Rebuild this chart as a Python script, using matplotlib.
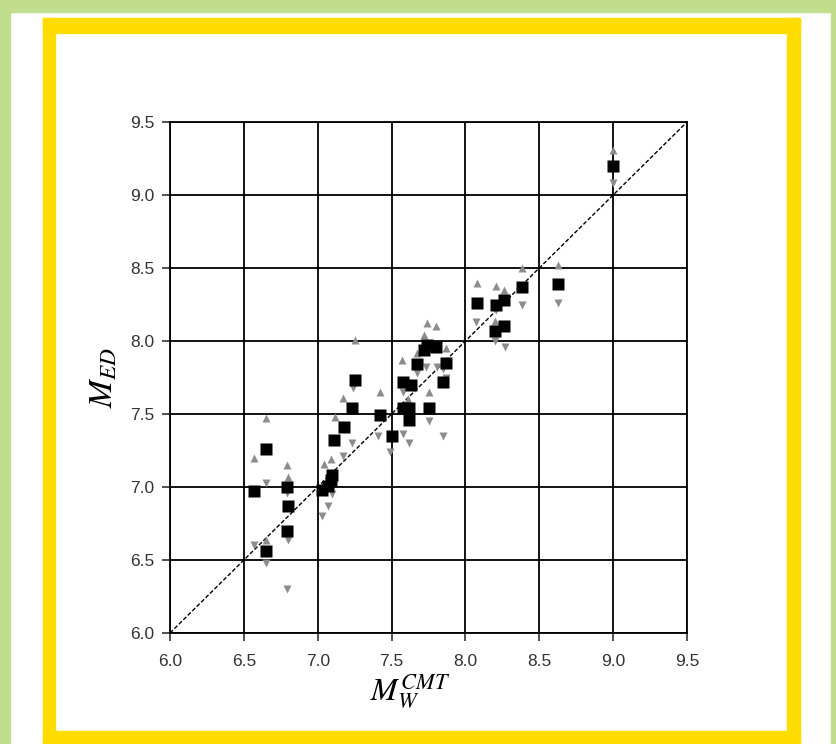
import numpy as np
import matplotlib.pyplot as plt
from matplotlib.patches import Rectangle

# M_w (CMT) vs M_ED: black squares, grey up/down triangles
sq_x = [9.00, 8.63, 8.38, 8.08, 8.21, 8.26, 8.20, 8.26,
        7.72, 7.74, 7.80, 7.67, 7.87, 7.85, 7.58, 7.63,
        7.58, 7.62, 7.75, 7.62, 7.50, 7.42,
        7.25, 7.23, 7.18, 7.11,
        7.03, 7.07, 7.09, 7.10,
        6.65, 6.57, 6.79, 6.80, 6.79, 6.65]
sq_y = [9.20, 8.39, 8.37, 8.26, 8.25, 8.28, 8.07, 8.10,
        7.94, 7.97, 7.96, 7.84, 7.85, 7.72, 7.72, 7.70,
        7.54, 7.54, 7.54, 7.46, 7.35, 7.49,
        7.73, 7.54, 7.41, 7.32,
        6.98, 7.01, 7.05, 7.08,
        7.26, 6.97, 7.00, 6.87, 6.70, 6.56]

up_x = [9.00, 8.63, 8.38, 8.08, 8.21, 8.26, 8.20,
        7.74, 7.80, 7.72, 7.67, 7.87, 7.57, 7.75, 7.42, 7.61,
        7.25, 7.17, 7.12, 7.09, 7.04,
        6.65, 6.57, 6.79, 6.80, 6.65]
up_y = [9.31, 8.52, 8.50, 8.40, 8.38, 8.35, 8.14,
        8.12, 8.10, 8.04, 7.92, 7.95, 7.87, 7.65, 7.65, 7.60,
        8.01, 7.61, 7.48, 7.19, 7.16,
        7.47, 7.20, 7.15, 7.07, 6.64]

dn_x = [9.00, 8.63, 8.38, 8.07, 8.21, 8.20, 8.27,
        7.67, 7.73, 7.81, 7.85, 7.87, 7.24, 7.58,
        7.23, 7.17, 7.41, 7.49, 7.58, 7.62, 7.75, 7.85,
        7.10, 7.07, 7.03,
        6.65, 6.79, 6.80, 6.57, 6.65, 6.79]
dn_y = [9.08, 8.26, 8.25, 8.13, 8.21, 8.00, 7.96,
        7.78, 7.82, 7.82, 7.81, 7.75, 7.68, 7.65,
        7.30, 7.21, 7.35, 7.24, 7.36, 7.30, 7.45, 7.35,
        6.95, 6.87, 6.80,
        7.03, 6.96, 6.64, 6.60, 6.48, 6.30]

ticks = [6.0, 6.5, 7.0, 7.5, 8.0, 8.5, 9.0, 9.5]

plt.rcParams['font.family'] = ['Liberation Sans Narrow', 'Liberation Sans', 'DejaVu Sans']
plt.rcParams['mathtext.fontset'] = 'stix'

fig = plt.figure(figsize=(8.37, 7.44), dpi=100)

# outer green frame and yellow frame
W, H = 837.0, 744.0
green = '#c1dd8e'
yellow = '#ffdc00'
for (x0, y0, w, h, c) in [(0, 0, 10, 744, green), (0, 732, 837, 12, green),
                          (831, 0, 6, 744, green),
                          (43, 0, 12, 726, yellow), (787, 0, 13, 726, yellow),
                          (43, 711, 757, 15, yellow), (43, 0, 757, 13, yellow)]:
    fig.patches.append(Rectangle((x0 / W, y0 / H), w / W, h / H,
                                 transform=fig.transFigure, color=c, zorder=0))

ax = fig.add_axes([170 / W, 1 - 633 / H, 517 / W, 511 / H])
ax.set_xlim(6.0, 9.5)
ax.set_ylim(6.0, 9.5)
ax.set_xticks(ticks)
ax.set_yticks(ticks)
ax.set_xticklabels(['%.1f' % t for t in ticks])
ax.set_yticklabels(['%.1f' % t for t in ticks])
ax.grid(True, color='black', lw=1.3)
ax.set_axisbelow(True)
ax.tick_params(direction='out', length=6, width=1.2, labelsize=12.5, colors='#333333',
               labelcolor='#333333')
ax.tick_params(axis='x', pad=9)
ax.tick_params(axis='y', pad=5)
for s in ax.spines.values():
    s.set_color('black')
    s.set_linewidth(1.3)

ax.plot([6.0, 9.5], [6.0, 9.5], color='black', lw=1.0, ls=(0, (3, 1.5)), zorder=2)
ax.plot(up_x, up_y, '^', color='#8c8c8c', ms=5.5, mec='none', zorder=3)
ax.plot(dn_x, dn_y, 'v', color='#8c8c8c', ms=5.5, mec='none', zorder=3)
ax.plot(sq_x, sq_y, 's', color='black', ms=8.5, mec='none', zorder=4)

ax.set_xlabel(r'$M_W^{CMT}$', fontsize=23)
ax.xaxis.set_label_coords(0.465, -0.078)
ax.set_ylabel(r'$M_{ED}$', fontsize=24, labelpad=8)

fig.savefig('out.png', dpi=100)
